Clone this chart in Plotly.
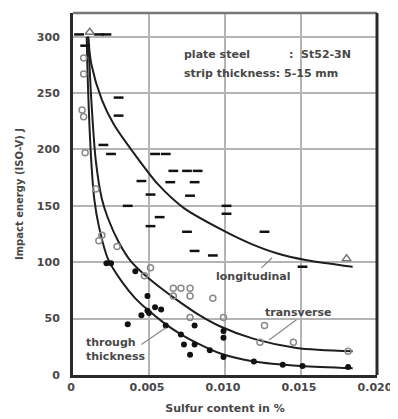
import plotly.graph_objects as go

# ---- data ----
x_ticks = [0, 0.005, 0.010, 0.015, 0.020]
x_tick_labels = ["0", "0.005", "0.010", "0.015", "0.020"]
y_ticks = [0, 50, 100, 150, 200, 250, 300]
y_tick_labels = ["0", "50", "100", "150", "200", "250", "300"]

# fitted curves
long_curve_x = [0.0010, 0.0012, 0.0019, 0.0027, 0.0041, 0.0056, 0.0073, 0.0099, 0.0116, 0.0134, 0.0153, 0.0184]
long_curve_y = [300, 276, 244, 222, 195, 169, 148, 128, 117, 108, 102, 96]
trans_curve_x = [0.0010, 0.0012, 0.0015, 0.0019, 0.0023, 0.0030, 0.0038, 0.0047, 0.0058, 0.0069, 0.0082, 0.0097, 0.0119, 0.0147, 0.0184]
trans_curve_y = [300, 245, 190, 156, 139, 118, 101, 89, 77, 66, 54, 43, 32, 24, 21]
thick_curve_x = [0.0009, 0.0010, 0.0012, 0.0014, 0.0017, 0.0023, 0.0032, 0.0041, 0.0049, 0.0060, 0.0071, 0.0082, 0.0097, 0.0119, 0.0150, 0.0184]
thick_curve_y = [300, 250, 190, 156, 132, 103, 83, 68, 58, 46, 36, 28, 19, 12, 8, 6]

# measured points
long_x = [0.0004, 0.0017, 0.0022, 0.0008, 0.0030, 0.0030, 0.0020, 0.0025, 0.0054, 0.0061, 0.0045, 0.0051,
          0.0066, 0.0075, 0.0082, 0.0064, 0.0080, 0.0077, 0.0036, 0.0057, 0.0051, 0.0075, 0.0080, 0.0092,
          0.0101, 0.0101, 0.0126, 0.0151]
long_y = [302, 302, 302, 292, 246, 230, 204, 196, 196, 196, 172, 160,
          181, 181, 181, 171, 171, 159, 150, 140, 132, 127, 110, 106,
          150, 143, 127, 96]
trans_x = [0.0007, 0.0007, 0.0006, 0.0007, 0.0008, 0.0015, 0.0019, 0.0029, 0.0017, 0.0047, 0.0051,
           0.0066, 0.0071, 0.0077, 0.0066, 0.0077, 0.0092, 0.0077, 0.0099, 0.0126, 0.0123, 0.0145, 0.0181]
trans_y = [281, 267, 235, 229, 197, 165, 124, 114, 119, 88, 95,
           77, 77, 77, 70, 70, 68, 51, 51, 44, 29, 29, 21]
thick_x = [0.0022, 0.0025, 0.0041, 0.0049, 0.0049, 0.0054, 0.0045, 0.0050, 0.0058, 0.0036, 0.0061,
           0.0071, 0.0073, 0.0077, 0.0080, 0.0099, 0.0099, 0.0080, 0.0090, 0.0099, 0.0119, 0.0138,
           0.0151, 0.0181]
thick_y = [99, 99, 92, 70, 57, 60, 53, 55, 58, 45, 44,
           36, 27, 18, 44, 39, 33, 27, 22, 16, 12, 9,
           8, 7]
tri_x = [0.0011, 0.0180]
tri_y = [304, 103]

FONT = "DejaVu Sans"
TXT = "#484848"

fig = go.Figure()

for cx, cy in [(long_curve_x, long_curve_y), (trans_curve_x, trans_curve_y), (thick_curve_x, thick_curve_y)]:
    fig.add_trace(go.Scatter(x=cx, y=cy, mode="lines", line=dict(color="#1e1e1e", width=2, shape="spline", smoothing=0.8),
                             hoverinfo="skip", showlegend=False))

fig.add_trace(go.Scatter(x=trans_x, y=trans_y, mode="markers", showlegend=False,
                         marker=dict(symbol="circle-open", size=6, color="#8a8a8a", line=dict(width=1.5, color="#8a8a8a"))))
fig.add_trace(go.Scatter(x=thick_x, y=thick_y, mode="markers", showlegend=False,
                         marker=dict(symbol="circle", size=6, color="#111111")))
fig.add_trace(go.Scatter(x=long_x, y=long_y, mode="markers", showlegend=False,
                         marker=dict(symbol="line-ew", size=7, color="#111111", line=dict(width=2.5, color="#111111"))))
fig.add_trace(go.Scatter(x=tri_x, y=tri_y, mode="markers", showlegend=False,
                         marker=dict(symbol="triangle-up-open", size=8, color="#777777", line=dict(width=1.5, color="#777777"))))

# curve labels with leader lines
labels = [
    dict(text="longitudinal", x=0.0093, y=87, lx0=0.0124, ly0=95, lx1=0.0131, ly1=104),
    dict(text="transverse", x=0.0125, y=55, lx0=0.0147, ly0=49, lx1=0.0129, ly1=31),
    dict(text="through<br>thickness", x=0.0007, y=23, lx0=0.0045, ly0=27, lx1=0.0061, ly1=42),
]
for lb in labels:
    fig.add_annotation(x=lb["x"], y=lb["y"], text="<b>%s</b>" % lb["text"], showarrow=False, xanchor="left", align="left",
                       font=dict(family=FONT, size=11, color=TXT))
    fig.add_shape(type="line", x0=lb["lx0"], y0=lb["ly0"], x1=lb["lx1"], y1=lb["ly1"],
                  line=dict(color="#888888", width=1.2))

# info box text
fig.add_annotation(x=0.0072, y=284, text="<b>plate steel</b>", showarrow=False, xanchor="left",
                   font=dict(family=FONT, size=11, color=TXT))
fig.add_annotation(x=0.01405, y=284, text="<b>:  St52-3N</b>", showarrow=False, xanchor="left",
                   font=dict(family=FONT, size=11, color=TXT))
fig.add_annotation(x=0.0072, y=267, text="<b>strip thickness: 5-15 mm</b>", showarrow=False, xanchor="left",
                   font=dict(family=FONT, size=11, color=TXT))

# top frame line (gray) and right frame line (dark)
fig.add_shape(type="line", xref="paper", yref="paper", x0=0, x1=1, y0=1, y1=1, line=dict(color="#777777", width=2.5))
fig.add_shape(type="line", xref="paper", yref="paper", x0=1, x1=1, y0=0, y1=1, line=dict(color="#2a2a2a", width=3))

fig.update_xaxes(range=[0, 0.020], tickvals=x_ticks, ticktext=["<b>%s</b>" % t for t in x_tick_labels], showgrid=True,
                 gridcolor="#b4b4b4", gridwidth=1.5, showline=True, linecolor="#2a2a2a", linewidth=3,
                 ticks="", zeroline=False, tickfont=dict(family=FONT, size=11, color=TXT), ticklabelshift=-2,
                 ticklabeloverflow="allow",
                 title=dict(text="<b>Sulfur content in %</b>", font=dict(family=FONT, size=11, color=TXT), standoff=12))
fig.update_yaxes(range=[0, 321], tickvals=y_ticks, ticktext=["<b>%s</b>" % t for t in y_tick_labels], showgrid=True,
                 gridcolor="#b4b4b4", gridwidth=2, showline=True, linecolor="#2a2a2a", linewidth=3,
                 ticks="", zeroline=False, tickfont=dict(family=FONT, size=11, color=TXT), ticklabelstandoff=8,
                 title=dict(text="<b>Impact energy (ISO-V) J</b>", font=dict(family=FONT, size=10, color=TXT), standoff=12))

# page body has an 8px default margin, so the figure is sized to fit the window
fig.update_layout(width=390, height=411, margin=dict(l=65, r=16, t=5, b=41),
                  plot_bgcolor="white", paper_bgcolor="white")

fig.write_html("out.html")
